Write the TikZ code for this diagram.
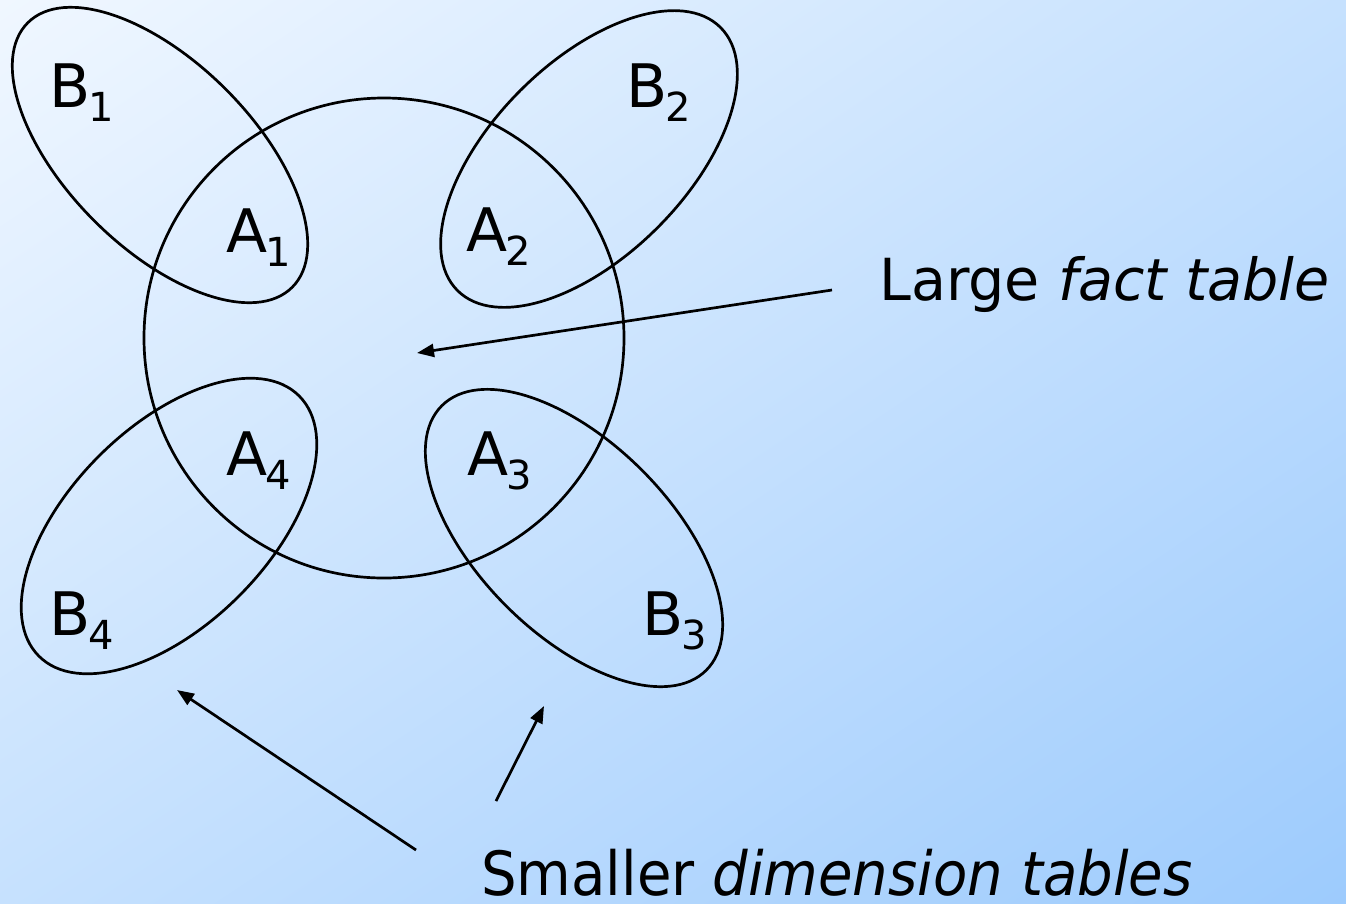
\documentclass[tikz,border=0pt]{standalone}
\usepackage{fontspec}
\setmainfont{DejaVu Sans}
\usetikzlibrary{arrows.meta,shadings}
\definecolor{bgA}{RGB}{240,247,255}
\definecolor{bgB}{RGB}{157,203,253}
\definecolor{bgM}{RGB}{198,225,254}
\newcommand{\labAB}[2]{#1\kern-2pt\raisebox{-14.5pt}{\fontsize{40}{40}\selectfont #2}}
\begin{document}
\begin{tikzpicture}[x=1pt,y=-1pt,
  outline/.style={draw=black,line width=2.7pt},
  pointer/.style={draw=black,line width=2.7pt,-{Triangle[length=17pt,width=13pt]}},
  setlabel/.style={anchor=base west,inner sep=0pt,font=\fontsize{60}{72}\selectfont},
  caption/.style={anchor=base west,inner sep=0pt,text depth=0pt}]
\shade[upper left=bgA,lower right=bgB,upper right=bgM,lower left=bgM] (0,0) rectangle (1346,903);
\useasboundingbox (0,0) rectangle (1346,903);
% centres
\coordinate (fc) at (384,338);
\coordinate (b1c) at (160,155);
\coordinate (b2c) at (589,159);
\coordinate (b3c) at (574,538);
\coordinate (b4c) at (169,526);
% fact table and dimension tables
\draw[outline] (fc) circle (240);
\draw[outline,rotate around={-45:(b1c)}] (b1c) ellipse (187 and 93);
\draw[outline,rotate around={45:(b2c)}] (b2c) ellipse (186 and 97);
\draw[outline,rotate around={-45:(b3c)}] (b3c) ellipse (187 and 96);
\draw[outline,rotate around={45:(b4c)}] (b4c) ellipse (184 and 99);
% labels
\node[setlabel] (lb1) at (49,107) {\labAB{B}{1}};
\node[setlabel] (la1) at (226.5,252) {\labAB{A}{1}};
\node[setlabel] (lb2) at (626,107) {\labAB{B}{2}};
\node[setlabel] (la2) at (466.5,251) {\labAB{A}{2}};
\node[setlabel] (la4) at (226.5,475) {\labAB{A}{4}};
\node[setlabel] (lb4) at (49,635) {\labAB{B}{4}};
\node[setlabel] (la3) at (467.5,475) {\labAB{A}{3}};
\node[setlabel] (lb3) at (642,635) {\labAB{B}{3}};
% captions
\node[caption] (fact) at (879,300) {\fontsize{58}{70}\selectfont\scalebox{0.985}[1]{Large \textit{fact table}}};
\node[caption] (dim) at (481,895) {\fontsize{61}{72}\selectfont\scalebox{0.92}[1]{Smaller \textit{dimension tables}}};
% arrow ends
\coordinate (factTail) at (832,290);
\coordinate (factTip) at (417,353);
\coordinate (dimTailA) at (416,850);
\coordinate (dimTipA) at (177,690);
\coordinate (dimTailB) at (496,801);
\coordinate (dimTipB) at (544,706);
\draw[pointer] (factTail) -- (factTip);
\draw[pointer] (dimTailA) -- (dimTipA);
\draw[pointer] (dimTailB) -- (dimTipB);
\end{tikzpicture}
\end{document}
